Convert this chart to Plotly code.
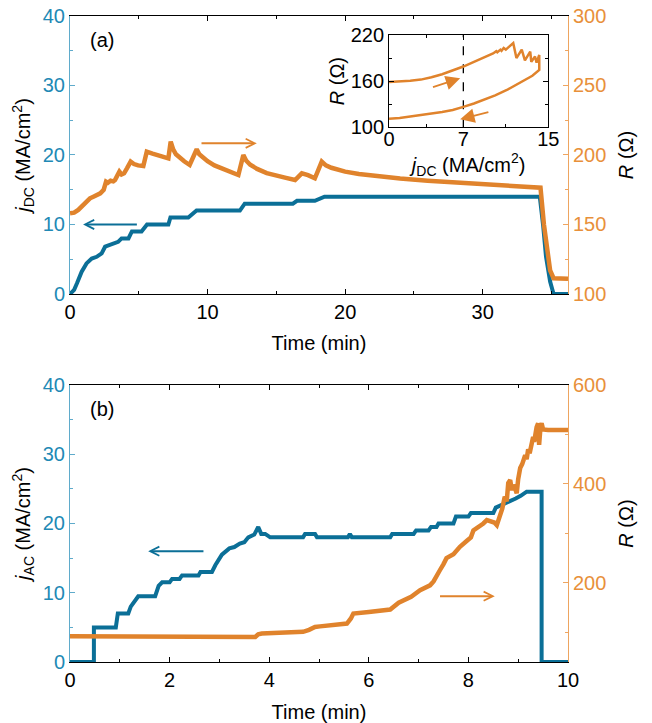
import plotly.graph_objects as go

# ---------------- panel (a): DC ----------------
t_dc = [0, 0.1, 0.3, 0.5, 0.85, 1.2, 1.58, 1.94, 2.3, 2.55, 2.8, 3.3, 3.5, 3.75, 4.25, 4.5, 5.2, 5.6, 7.15, 7.3, 8.6, 9.2,
        12.35, 12.7, 16.2, 16.5, 17.8, 18.5, 34.15, 34.4, 34.6, 34.9, 35.15, 36.2]
j_dc = [0, 0.2, 0.6, 1.5, 3.2, 4.4, 5.1, 5.35, 5.85, 6.8, 7.0, 7.3, 7.5, 8.0, 8.0, 9.0, 9.0, 10.0, 10.0, 11.0, 11.0, 12.0,
        12.0, 13.0, 13.0, 13.4, 13.4, 14.0, 14.0, 9.7, 5.4, 1.8, 0, 0]

t_r_dc = [0, 0.3, 0.6, 0.9, 1.2, 1.45, 1.7, 1.95, 2.2, 2.45, 2.62, 2.75, 2.95, 3.15, 3.27, 3.4, 3.59, 3.75, 3.93, 4.15,
          4.41, 4.65, 4.95, 5.33, 5.58, 6.0, 6.5, 7.15, 7.32, 7.5, 7.7, 8.0, 8.3, 8.7, 9.21, 9.4, 9.7, 10.0, 10.5, 11.0,
          11.6, 12.24, 12.6, 12.8, 13.1, 13.6, 14.3, 15.0, 15.7, 16.36, 16.6, 16.85, 17.3, 17.8, 18.3, 18.6, 19.0, 20.0,
          21.0, 22.5, 24.0, 26.0, 28.0, 30.0, 32.0, 34.2, 34.45, 34.67, 34.9, 35.15, 35.5, 36.2]
r_dc = [158, 158.5, 160.5, 163.5, 166.4, 168.8, 170.0, 171.5, 172.4, 175.0, 180.8, 180.0, 181.5, 181.0, 182.0, 184.4, 188.0,
        186.0, 186.8, 190.5, 195.2, 193.5, 192.5, 192.1, 202.4, 201.0, 199.5, 197.6, 209.6, 204.0, 200.5, 197.5, 195.5,
        192.8, 204.1, 200.5, 197.5, 195.5, 192.5, 190.5, 188.0, 185.6, 200.0, 196.0, 193.0, 190.0, 187.0, 185.0, 183.5,
        182.0, 184.0, 186.8, 185.5, 183.2, 195.2, 192.5, 190.8, 188.0, 186.3, 184.5, 183.0, 181.5, 180.2, 179.0, 177.8,
        176.5, 150.0, 131.6, 117.0, 111.3, 111.0, 111.0]

# inset: R vs j_DC
inset_j = [0, 1, 2, 3, 4, 5, 6, 7, 8, 9, 9.8, 10.1, 10.2, 10.5, 10.6, 10.8, 11.0, 11.7, 12.0, 12.5, 12.8, 13.3, 13.4,
           13.75, 13.9, 14.15, 14.15, 13.5, 12.8, 12.0, 11.1, 10.0, 9.0, 8.0, 7.0, 6.0, 5.0, 4.0, 3.0, 2.0, 1.0, 0]
inset_r = [159, 159.5, 160.5, 162, 165, 169, 173.5, 179, 185, 191, 196, 199, 197.5, 201, 199.5, 203, 201, 209.5, 190,
           201, 187, 198.5, 185, 192, 184, 194, 174.5, 167, 161.5, 155, 148.5, 141.5, 136, 131, 126.5, 122.5, 120, 118,
           116.5, 114, 112, 111]

# ---------------- panel (b): AC ----------------
t_ac = [0, 0.48, 0.48, 0.92, 0.96, 1.17, 1.22, 1.3, 1.37, 1.71, 1.78, 1.85, 2.0, 2.05, 2.2, 2.25, 2.58, 2.62, 2.85, 2.92,
        3.05, 3.2, 3.3, 3.41, 3.5, 3.58, 3.7, 3.78, 3.84, 3.92, 4.02, 4.68, 4.72, 4.92, 4.96, 5.58, 5.62, 5.66, 6.43,
        6.47, 6.9, 6.95, 7.2, 7.25, 7.36, 7.4, 7.7, 7.75, 8.0, 8.05, 8.5, 8.55, 8.65, 8.75, 8.85, 8.95, 9.05, 9.17, 9.47,
        9.47, 10]
j_ac = [0, 0, 5, 5, 7, 7, 8, 8.7, 9.5, 9.5, 11, 11.5, 11.5, 12, 12, 12.5, 12.5, 13, 13, 14, 15.5, 16.4, 16.6, 17.1, 17.3,
        18.0, 18.4, 19.5, 18.5, 18.5, 18, 18, 18.5, 18.5, 18, 18, 18.5, 18, 18, 18.5, 18.5, 19, 19, 19.5, 19.5, 20, 20,
        21, 21, 21.5, 21.5, 22.3, 22.6, 23.0, 23.3, 23.6, 24.0, 24.6, 24.6, 0, 0]

t_r_ac = [0, 1, 2, 3, 3.45, 3.72, 3.78, 3.85, 4.2, 4.68, 4.8, 4.92, 5.02, 5.3, 5.56, 5.64, 5.69, 6.0, 6.43, 6.6, 6.85,
          7.03, 7.23, 7.3, 7.36, 7.43, 7.5, 7.56, 7.7, 7.83, 7.97, 8.05, 8.1, 8.2, 8.3, 8.37, 8.45, 8.52, 8.57, 8.6,
          8.63, 8.68, 8.73, 8.77, 8.8, 8.84, 8.87, 8.9, 8.94, 8.97, 9.0, 9.04, 9.08, 9.11, 9.14, 9.17, 9.2, 9.23, 9.27,
          9.3, 9.32, 9.35, 9.37, 9.4, 9.42, 9.45, 9.47, 9.5, 9.6, 10]
r_ac = [92, 92, 92, 92, 91, 90.5, 96, 97.5, 99, 101, 105, 110.9, 112, 114, 117.7, 128, 138, 141, 146, 160, 172, 185, 195,
        203, 212, 226, 238, 250, 258, 272.8, 285, 292, 306, 312, 320, 326.8, 324, 322, 316.7, 325, 333.5, 350, 374,
        365, 402, 408, 387.6, 398, 390, 381, 410, 432, 440, 452, 458, 450, 470, 462, 478, 495, 485, 508, 515, 522.6, 479,
        518, 522.6, 510, 509, 509]

BLUE = '#0b6f97'
ORANGE = '#e0832c'
BLUE_TXT = '#2189b5'
ORANGE_TXT = '#e8903a'
BLUE_AX = '#5fabcb'
ORANGE_AX = '#eea560'
FONT = 'Liberation Sans, Arial, sans-serif'
FS = 20

fig = go.Figure()
fig.add_trace(go.Scatter(x=t_dc, y=j_dc, mode='lines', line=dict(color=BLUE, width=4),
                         xaxis='x', yaxis='y', showlegend=False))
fig.add_trace(go.Scatter(x=t_r_dc, y=r_dc, mode='lines', line=dict(color=ORANGE, width=4.5),
                         xaxis='x', yaxis='y2', showlegend=False))
fig.add_trace(go.Scatter(x=[7, 7], y=[100, 220], mode='lines', line=dict(color='black', width=1.3, dash='dash'),
                         xaxis='x3', yaxis='y5', showlegend=False))
fig.add_trace(go.Scatter(x=inset_j, y=inset_r, mode='lines', line=dict(color=ORANGE, width=2.5),
                         xaxis='x3', yaxis='y5', showlegend=False))
fig.add_trace(go.Scatter(x=t_ac, y=j_ac, mode='lines', line=dict(color=BLUE, width=4),
                         xaxis='x2', yaxis='y3', showlegend=False))
fig.add_trace(go.Scatter(x=t_r_ac, y=r_ac, mode='lines', line=dict(color=ORANGE, width=4.5),
                         xaxis='x2', yaxis='y4', showlegend=False))

base = dict(ticks='inside', ticklen=5, tickwidth=1, showgrid=False, zeroline=False, showline=True,
            linewidth=1, automargin=False)


def minor(d=None, vals=None, color=None):
    m = dict(ticks='inside', ticklen=3, tickwidth=1, showgrid=False)
    if d is not None:
        m.update(dtick=d, tick0=0)
    if vals is not None:
        m.update(tickmode='array', tickvals=vals)
    if color:
        m.update(tickcolor=color)
    return m


title_font = dict(family=FONT, size=FS, color='black')

TOP = [0.5697, 1.0]
BOT = [0.0, 0.4288]

fig.update_layout(
    width=652, height=723,
    margin=dict(l=70, r=84, t=16, b=61),
    paper_bgcolor='white', plot_bgcolor='white',
    font=dict(family=FONT, size=FS, color='black'),
    showlegend=False,
    xaxis=dict(base, domain=[0, 1], anchor='y', range=[0, 36.2], tick0=0, dtick=10, minor=minor(5),
               mirror='ticks', linecolor='black', tickcolor='black', tickfont=dict(size=FS, color='black'),
               title=dict(text='Time (min)', font=title_font, standoff=14)),
    yaxis=dict(base, domain=TOP, anchor='x', range=[0, 40], tick0=0, dtick=10, minor=minor(5, color=BLUE_AX),
               linecolor=BLUE_AX, tickcolor=BLUE_AX, tickfont=dict(size=FS, color=BLUE_TXT),
               title=dict(text='<i>j</i><sub>DC</sub> (MA/cm<sup>2</sup>)', font=title_font, standoff=6)),
    yaxis2=dict(base, overlaying='y', side='right', anchor='x', range=[100, 300], tick0=0, dtick=50,
                minor=minor(25, color=ORANGE_AX),
                linecolor=ORANGE_AX, tickcolor=ORANGE_AX, tickfont=dict(size=FS, color=ORANGE_TXT),
                title=dict(text='<i>R</i> (\u03a9)', font=title_font, standoff=13)),
    xaxis2=dict(base, domain=[0, 1], anchor='y3', range=[0, 10], tick0=0, dtick=2, minor=minor(1),
                mirror='ticks', linecolor='black', tickcolor='black', tickfont=dict(size=FS, color='black'),
                title=dict(text='Time (min)', font=title_font, standoff=14)),
    yaxis3=dict(base, domain=BOT, anchor='x2', range=[0, 40], tick0=0, dtick=10, minor=minor(5, color=BLUE_AX),
                linecolor=BLUE_AX, tickcolor=BLUE_AX, tickfont=dict(size=FS, color=BLUE_TXT),
                title=dict(text='<i>j</i><sub>AC</sub> (MA/cm<sup>2</sup>)', font=title_font, standoff=6)),
    yaxis4=dict(base, overlaying='y3', side='right', anchor='x2', range=[40, 600], tick0=0, dtick=200,
                minor=minor(100, color=ORANGE_AX),
                linecolor=ORANGE_AX, tickcolor=ORANGE_AX, tickfont=dict(size=FS, color=ORANGE_TXT),
                title=dict(text='<i>R</i> (\u03a9)', font=title_font, standoff=13)),
    xaxis3=dict(base, domain=[0.6406, 0.9604], anchor='y5', range=[0, 15], tickmode='array', tickvals=[0, 7, 15],
                minor=minor(vals=[3.5, 11]), mirror='ticks', linecolor='black', tickcolor='black',
                tickfont=dict(size=FS, color='black'), ticklabelstandoff=-6,
                title=dict(text='<i>j</i><sub>DC</sub> (MA/cm<sup>2</sup>)', font=title_font, standoff=0)),
    yaxis5=dict(base, domain=[0.8277, 0.9706], anchor='x3', range=[100, 220], tickmode='array',
                tickvals=[100, 160, 220], minor=minor(vals=[130, 190]), mirror='ticks', linecolor='black',
                tickcolor='black', tickfont=dict(size=FS, color='black'),
                title=dict(text='<i>R</i> (\u03a9)', font=title_font, standoff=0)),
)

arrow = dict(showarrow=True, arrowhead=5, arrowsize=0.9, arrowwidth=2, text='', standoff=0, startstandoff=0)
annotations = [
    # panel (a)
    dict(arrow, x=0.95, y=10, ax=4.97, ay=10, xref='x', yref='y', axref='x', ayref='y', arrowcolor=BLUE),
    dict(arrow, x=13.58, y=208.4, ax=9.45, ay=208.4, xref='x', yref='y2', axref='x', ayref='y2', arrowcolor=ORANGE),
    # inset
    dict(showarrow=True, arrowhead=2, arrowsize=1.6, arrowwidth=1.8, text='', standoff=0, arrowcolor=ORANGE,
         x=6.7, y=163.7, ax=4.0, ay=151.5, xref='x3', yref='y5', axref='x3', ayref='y5'),
    dict(showarrow=True, arrowhead=2, arrowsize=1.6, arrowwidth=1.8, text='', standoff=0, arrowcolor=ORANGE,
         x=6.7, y=110.4, ax=9.5, ay=120.3, xref='x3', yref='y5', axref='x3', ayref='y5'),
    # panel (b)
    dict(arrow, x=1.57, y=16.0, ax=2.71, ay=16.0, xref='x2', yref='y3', axref='x2', ayref='y3', arrowcolor=BLUE),
    dict(arrow, x=8.53, y=173, ax=7.4, ay=173, xref='x2', yref='y4', axref='x2', ayref='y4', arrowcolor=ORANGE),
    # panel labels
    dict(showarrow=False, text='(a)', x=2.3, y=36.6, xref='x', yref='y', font=dict(size=FS, color='black'),
         xanchor='center', yanchor='middle'),
    dict(showarrow=False, text='(b)', x=0.64, y=36.6, xref='x2', yref='y3', font=dict(size=FS, color='black'),
         xanchor='center', yanchor='middle'),
]
fig.update_layout(annotations=annotations)

fig.write_html('out.html')
